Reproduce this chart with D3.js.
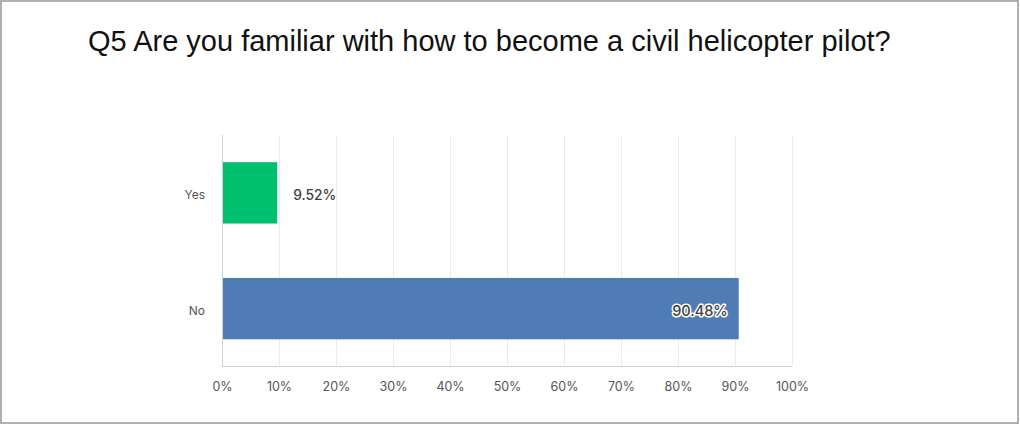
<!DOCTYPE html>
<html>
<head>
<meta charset="utf-8">
<script src="https://cdn.jsdelivr.net/npm/d3@7"></script>
<style>
html,body{margin:0;padding:0;background:#fff;}
svg{display:block;}
</style>
</head>
<body>
<script>
const title = "Q5 Are you familiar with how to become a civil helicopter pilot?";
const categories = ["Yes", "No"];
const values = [9.52, 90.48];
const colors = ["#00bf6f", "#507cb6"];
const tickValues = [0,10,20,30,40,50,60,70,80,90,100];

const W = 1020, H = 425;
const svg = d3.select("body").append("svg").attr("width", W).attr("height", H);

svg.append("rect").attr("x",1).attr("y",1).attr("width",W-3).attr("height",H-3)
  .attr("fill","#fff").attr("stroke","#b0b0b0").attr("stroke-width",2);

svg.append("text").attr("x",88).attr("y",51)
  .attr("font-family","Liberation Sans, Arial, sans-serif").attr("font-size",29)
  .attr("fill","#111").text(title);

const m = {left:222, right:792, top:135, bottom:366.5};
const x = d3.scaleLinear().domain([0,100]).range([m.left, m.right]);
const y = d3.scaleBand().domain(categories).range([m.top, m.bottom]).paddingInner(0.47).paddingOuter(0.235);

const g = svg.append("g");
// gridlines
g.selectAll("line.grid").data(tickValues.slice(1)).join("line")
  .attr("x1", d=>x(d)+0.5).attr("x2", d=>x(d)+0.5).attr("y1", m.top).attr("y2", m.bottom)
  .attr("stroke","#ececec").attr("stroke-width",1);

// axes lines
g.append("line").attr("x1",m.left+0.5).attr("x2",m.left+0.5).attr("y1",m.top).attr("y2",m.bottom)
  .attr("stroke","#d0d0d0");
g.append("line").attr("x1",m.left).attr("x2",m.right).attr("y1",m.bottom).attr("y2",m.bottom)
  .attr("stroke","#d0d0d0");

// bars
g.selectAll("rect.bar").data(categories).join("rect")
  .attr("x", x(0)+1).attr("y", d=>y(d))
  .attr("width", (d,i)=>x(values[i])-x(0)).attr("height", y.bandwidth())
  .attr("fill", (d,i)=>colors[i]);

// category labels
g.selectAll("text.cat").data(categories).join("text")
  .attr("x", 205).attr("y", d=>y(d)+y.bandwidth()/2+2).attr("dy","0.35em")
  .attr("text-anchor","end").attr("font-family","Inter, Noto Sans, sans-serif")
  .attr("font-size",12).attr("fill","#555").text(d=>d);

// value labels
g.selectAll("text.val").data(categories).join("text")
  .attr("x", (d,i)=> values[i] > 50 ? x(values[i]) - 10 : x(values[i]) + 17)
  .attr("y", d=>y(d)+y.bandwidth()/2+2).attr("dy","0.35em")
  .attr("text-anchor", (d,i)=> values[i] > 50 ? "end" : "start")
  .attr("font-family","Inter, Noto Sans, sans-serif").attr("font-size",(d,i)=> values[i] > 50 ? 14.5 : 13.8).attr("font-weight",500)
  .attr("fill","#3e3e3e")
  .attr("stroke",(d,i)=> values[i] > 50 ? "#fff" : "none").attr("stroke-width",3)
  .attr("stroke-linejoin","round").attr("paint-order","stroke")
  .text((d,i)=>values[i].toFixed(2)+"%");

// x tick labels
const xAxis = d3.axisBottom(x).tickValues(tickValues).tickFormat(d=>d+"%").tickSize(0).tickPadding(16);
const ax = svg.append("g").attr("transform",`translate(0,${m.bottom})`).call(xAxis);
ax.select(".domain").remove();
ax.selectAll("text").attr("font-family","Inter, Noto Sans, sans-serif").attr("font-size",12.5).attr("fill","#555");
</script>
</body>
</html>
